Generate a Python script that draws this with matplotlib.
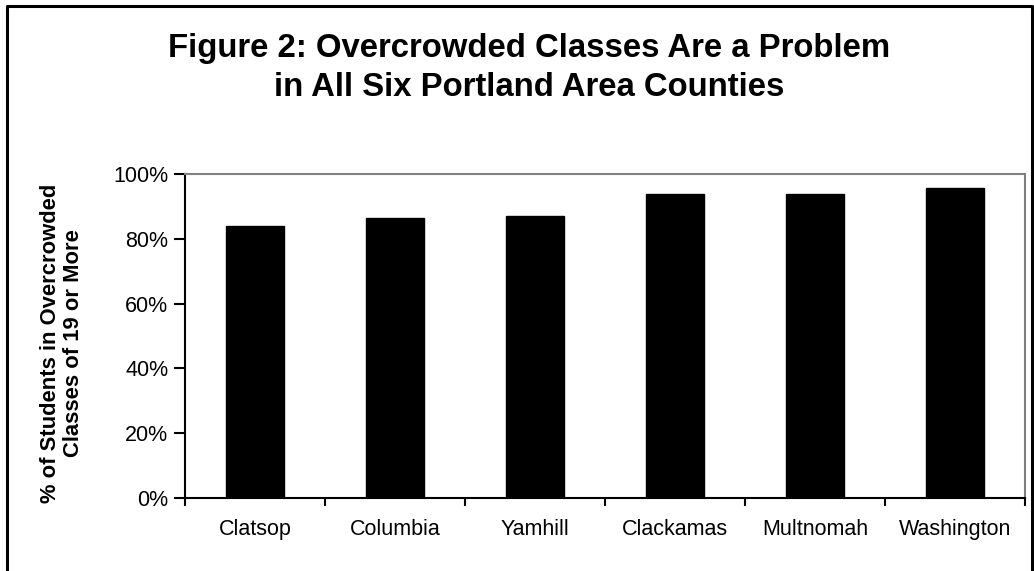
import matplotlib.pyplot as plt
from matplotlib.lines import Line2D

# Data
counties = ['Clatsop', 'Columbia', 'Yamhill', 'Clackamas', 'Multnomah', 'Washington']
pct_overcrowded = [83.8, 86.3, 87.0, 93.8, 93.8, 95.7]
y_ticks = [0, 20, 40, 60, 80, 100]

plt.rcParams['font.family'] = ['Liberation Sans', 'DejaVu Sans']

W, H = 1034, 571
fig = plt.figure(figsize=(W / 100, H / 100), dpi=100)

# Axes box in pixels: left 185, right 1025, top 174, bottom 498
ax = fig.add_axes([185 / W, 1 - 498 / H, (1025 - 185) / W, (498 - 174) / H])

x = list(range(len(counties)))
ax.bar(x, pct_overcrowded, width=0.42, color='black', edgecolor='black')

ax.set_xlim(-0.5, len(counties) - 0.5)
ax.set_ylim(0, 100)
ax.set_yticks(y_ticks)
ax.set_yticklabels([str(t) + '%' for t in y_ticks], fontsize=15.5)

# category labels between boundary ticks
ax.set_xticks([i - 0.5 for i in range(len(counties) + 1)])
ax.set_xticklabels([])
ax.set_xticks(x, minor=True)
ax.set_xticklabels(counties, minor=True, fontsize=15.5)
ax.tick_params(axis='x', which='minor', length=0, pad=15)
ax.tick_params(axis='x', which='major', length=6, width=1.5, direction='out')
ax.tick_params(axis='y', length=8, width=1.5, direction='out', pad=4)

for s in ['left', 'bottom']:
    ax.spines[s].set_color('black')
    ax.spines[s].set_linewidth(1.5)
for s in ['top', 'right']:
    ax.spines[s].set_color('#808080')
    ax.spines[s].set_linewidth(1.5)

ax.set_ylabel('% of Students in Overcrowded\nClasses of 19 or More',
              fontsize=15.8, fontweight='bold', linespacing=1.15)
ax.yaxis.set_label_coords(-101 / 840, 0.478)

fig.text(529 / W, 1 - 68 / H, 'Figure 2: Overcrowded Classes Are a Problem\nin All Six Portland Area Counties',
         ha='center', va='center', fontsize=23.7, fontweight='bold', linespacing=1.3)

# outer frame (left, top, right)
xl, xr, yt = 7 / W, 1032 / W, 1 - 5.5 / H
fig.add_artist(Line2D([xl, xl, xr, xr], [0, yt, yt, 0], color='black', lw=2.2,
                      transform=fig.transFigure))

fig.savefig('out.png', dpi=100)
